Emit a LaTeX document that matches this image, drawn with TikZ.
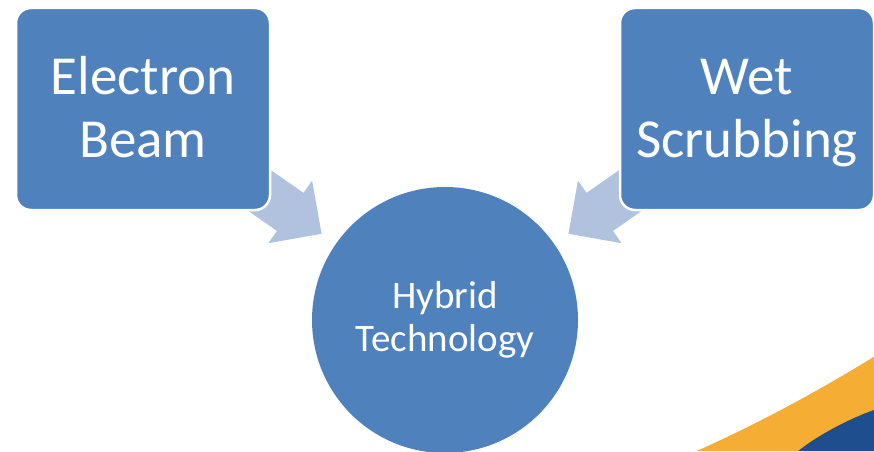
\documentclass[tikz,border=0pt]{standalone}
\usepackage{fontspec}
\setmainfont{Carlito}
\usetikzlibrary{shapes.arrows, backgrounds, calc}
\definecolor{boxblue}{HTML}{4F81BD}
\definecolor{arrowblue}{HTML}{B0C2DE}
\definecolor{swooshgold}{HTML}{F5AE33}
\definecolor{swooshnavy}{HTML}{1F4E8F}

\begin{document}
\begin{tikzpicture}[x=1pt, y=1pt,
    methodbox/.style={draw=white, line width=2.5pt, fill=boxblue, rounded corners=15pt,
      minimum width=254pt, minimum height=202pt, inner sep=0pt, align=center,
      text=white, font=\fontsize{55}{63.5}\selectfont,
      text height=107pt, text depth=10pt},
    hybridcircle/.style={circle, fill=boxblue, minimum size=266pt, inner sep=0pt,
      align=center, text=white, font=\fontsize{39}{43.5}\selectfont,
      text height=73.4pt, text depth=10pt},
    feedarrow/.style={single arrow, fill=arrowblue, minimum height=90pt,
      inner xsep=0pt, inner ysep=23pt, single arrow head extend=15pt, anchor=tip}]
  \useasboundingbox (0,0) rectangle (874,451);

  % swoosh in the lower right corner
  \fill[swooshgold] (696.7,0) .. controls (755,26) and (815,58) .. (874,94.3) -- (874,0) -- cycle;
  \fill[swooshnavy] (798.3,0) .. controls (815,14) and (848,32) .. (874,41) -- (874,0) -- cycle;

  \node[methodbox] (ebeam) at (143,342) {Electron\\Beam};
  \node[methodbox] (wetscrub) at (747,342) {Wet\\Scrubbing};
  \node[hybridcircle] (hybrid) at (445,131) {Hybrid\\Technology};

  % block arrows sit behind the boxes
  \begin{scope}[on background layer]
    \node[feedarrow, rotate=-34.9] (ebeamarrow) at ($(ebeam)!0.592!(hybrid)$) {};
    \node[feedarrow, rotate=214.9] (wetarrow) at ($(wetscrub)!0.592!(hybrid)$) {};
  \end{scope}
\end{tikzpicture}
\end{document}
